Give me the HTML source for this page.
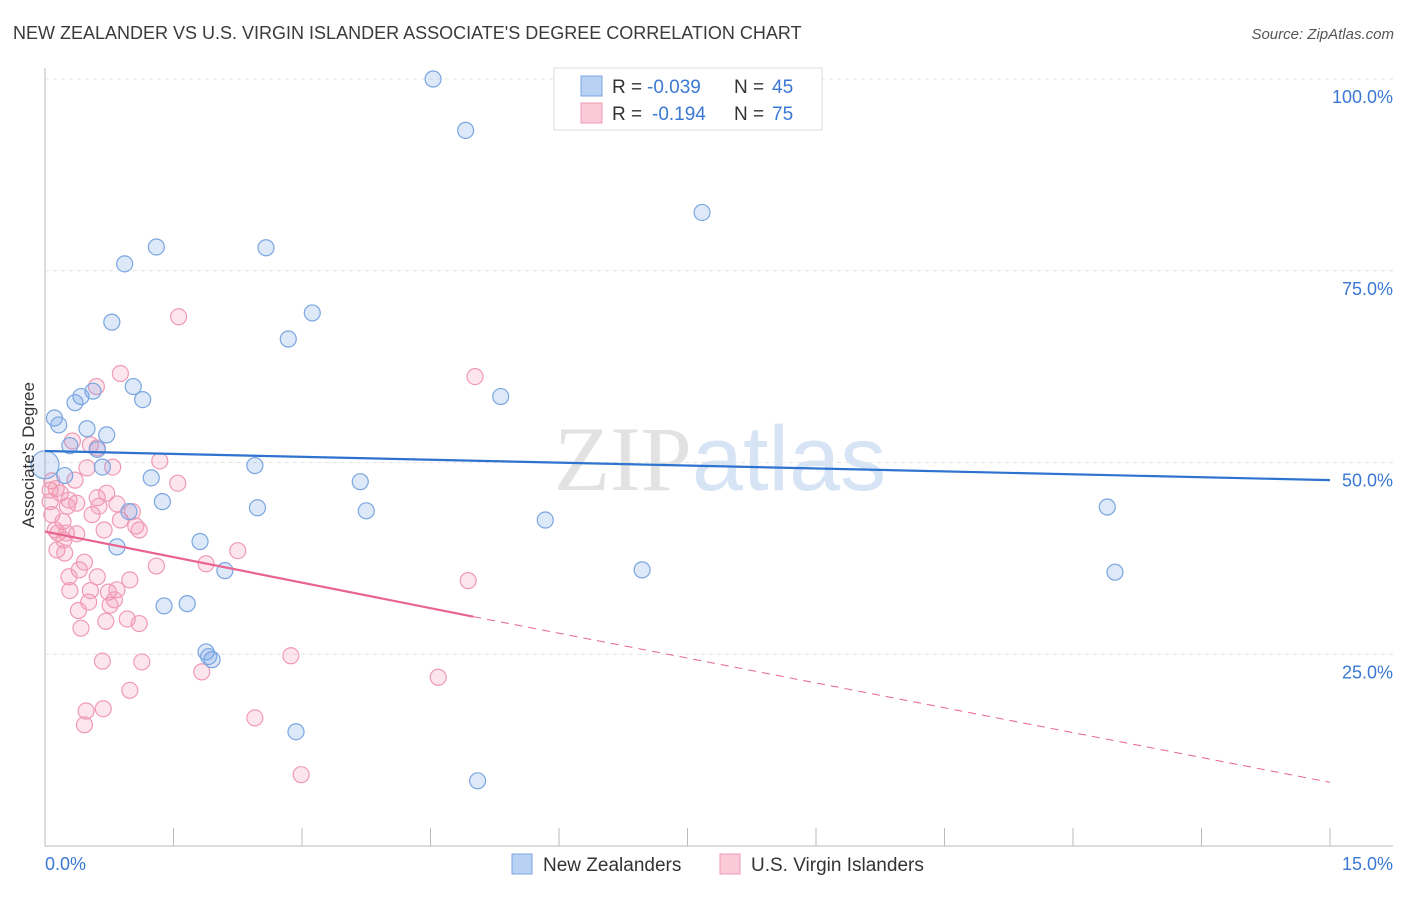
<!DOCTYPE html>
<html><head><meta charset="utf-8"><style>
body{margin:0;background:#fff;font-family:"Liberation Sans",sans-serif}
svg text{font-family:"Liberation Sans",sans-serif}
</style></head><body>
<svg id="chart" width="1406" height="892" xmlns="http://www.w3.org/2000/svg">
<text x="13" y="39" font-size="18" fill="#3a3a3a">NEW ZEALANDER VS U.S. VIRGIN ISLANDER ASSOCIATE'S DEGREE CORRELATION CHART</text>
<text x="1394" y="39" font-size="15" fill="#555" text-anchor="end" font-style="italic">Source: ZipAtlas.com</text>
<text x="720" y="490" font-size="92" text-anchor="middle"><tspan fill="#e2e2e2" font-family="Liberation Serif">ZIP</tspan><tspan fill="#d6e4f5">atlas</tspan></text>
<g id="grid"></g><g id="axes"></g><g id="pts"></g><g id="lines"></g>
<text transform="translate(34,455) rotate(-90)" font-size="17" fill="#333" text-anchor="middle">Associate's Degree</text>
<g>
<rect x="554" y="68" width="268" height="62" fill="#fff" stroke="#ddd"/>
<rect x="581" y="76" width="21" height="20" fill="#b9d2f3" stroke="#7aa6e0"/>
<rect x="581" y="103" width="21" height="20" fill="#fbcad8" stroke="#f09ab5"/>
<text x="612" y="93" font-size="19" fill="#333">R =</text>
<text x="647" y="93" font-size="19" fill="#3a78d4">-0.039</text>
<text x="734" y="93" font-size="19" fill="#333">N =</text>
<text x="772" y="93" font-size="19" fill="#3a78d4">45</text>
<text x="612" y="120" font-size="19" fill="#333">R =</text>
<text x="652" y="120" font-size="19" fill="#3a78d4">-0.194</text>
<text x="734" y="120" font-size="19" fill="#333">N =</text>
<text x="772" y="120" font-size="19" fill="#3a78d4">75</text>
</g>
<g>
<rect x="512" y="854" width="20" height="20" fill="#b9d2f3" stroke="#7aa6e0"/>
<text x="543" y="871" font-size="19" fill="#333">New Zealanders</text>
<rect x="720" y="854" width="20" height="20" fill="#fbcad8" stroke="#f09ab5"/>
<text x="751" y="871" font-size="19" fill="#333">U.S. Virgin Islanders</text>
</g>
</svg>
<script>
const xTicks=[0,1.5,3,4.5,6,7.5,9,10.5,12,13.5,15];
const yTicks=[25,50,75,100];
const yTickLabels=["25.0%","50.0%","75.0%","100.0%"];
const blueX=[4.53,4.91,7.67,1.30,2.58,0.93,0.78,3.12,2.84,0.56,1.03,0.35,1.14,0.42,5.32,0.11,0.16,0.49,0.72,0.29,0.61,0,0.67,2.45,0.23,1.24,3.68,1.37,2.48,3.75,0.98,5.84,12.40,0.84,1.81,2.10,6.97,12.49,1.39,1.66,1.88,1.95,1.91,2.93,5.05];
const blueY=[100,93.3,82.6,78.1,78.0,75.9,68.3,69.5,66.1,59.3,59.9,57.8,58.2,58.6,58.6,55.8,54.9,54.4,53.6,52.2,51.7,49.7,49.4,49.6,48.3,48.0,47.5,44.9,44.1,43.7,43.6,42.5,44.2,39.0,39.7,35.9,36.0,35.7,31.3,31.6,25.3,24.3,24.7,14.9,8.5];
const pinkX=[1.56,5.02,0.88,0.60,0.32,0.61,0.53,1.34,0.79,0.49,0.35,1.55,0.08,0.13,0.18,0.72,0.61,0.28,0.37,0.84,0.63,0.06,1.02,0.08,0.21,1.06,1.10,0.69,0.15,0.25,0.37,0.12,0.22,2.25,0.14,0.23,0.46,1.30,1.88,0.40,0.28,0.61,0.99,4.94,0.29,0.53,0.84,0.74,0.81,0.51,0.76,0.39,0.71,0.96,1.10,0.42,2.87,0.67,1.13,1.83,4.59,0.99,0.48,0.68,2.45,0.46,2.99,0.06,0.26,0.88,0.55];
const pinkY=[69.0,61.2,61.6,59.9,52.8,51.9,52.3,50.2,49.4,49.3,47.7,47.3,47.6,46.6,46.0,46.0,45.4,45.1,44.7,44.6,44.3,44.9,43.6,43.2,42.3,41.7,41.2,41.2,40.8,40.8,40.7,41.2,39.9,38.5,38.6,38.2,37.0,36.5,36.8,36.0,35.1,35.1,34.7,34.6,33.3,33.3,33.4,33.1,32.1,31.8,31.4,30.7,29.3,29.6,29.0,28.4,24.8,24.1,24.0,22.7,22.0,20.3,17.6,17.9,16.7,15.8,9.3,46.4,44.3,42.5,43.2];
const blueTrend=[51.5,47.7];
const pinkTrend=[41.0,29.9,8.3];
const pinkSolidEnd=5.0;
const X=v=>45+v*(1285/15), Y=v=>846-v*(767/100);
const NS="http://www.w3.org/2000/svg";
function mk(p,t,a){const e=document.createElementNS(NS,t);for(const k in a)e.setAttribute(k,a[k]);p.appendChild(e);return e;}
const grid=document.getElementById('grid'),axes=document.getElementById('axes'),pts=document.getElementById('pts'),lines=document.getElementById('lines');
yTicks.forEach((t,i)=>{const g=mk(grid,'line',{x1:45,x2:1393,y1:Y(t),y2:Y(t),stroke:'#e4e4e4','stroke-dasharray':'4,4'});


const tx=mk(axes,'text',{x:1393,y:Y(t)+24,'font-size':18,fill:'#3a78d4','text-anchor':'end'});tx.textContent=yTickLabels[i];

});
const ax=mk(axes,'line',{x1:45,x2:1393,y1:846,y2:846,stroke:'#bbb'});


const ay=mk(axes,'line',{x1:45,x2:45,y1:68,y2:846,stroke:'#bbb'});


xTicks.forEach(t=>{const l=mk(axes,'line',{x1:X(t),x2:X(t),y1:828,y2:846,stroke:'#bbb'});

});
const xl0=mk(axes,'text',{x:45,y:870,'font-size':18,fill:'#3a78d4'});xl0.textContent="0.0%";


const xl1=mk(axes,'text',{x:1393,y:870,'font-size':18,fill:'#3a78d4','text-anchor':'end'});xl1.textContent="15.0%";


pinkX.forEach((x,i)=>{const c=mk(pts,'circle',{cx:X(x),cy:Y(pinkY[i]),r:8,fill:'rgba(244,150,180,0.25)',stroke:'#f09ab5','stroke-width':1.2});

});
blueX.forEach((x,i)=>{const c=mk(pts,'circle',{cx:X(x),cy:Y(blueY[i]),r:x===0?14:8,fill:'rgba(120,165,230,0.25)',stroke:'#7aa6e0','stroke-width':1.2});

});
const bl=mk(lines,'line',{x1:X(0),y1:Y(blueTrend[0]),x2:X(15),y2:Y(blueTrend[1]),stroke:'#2f73d0','stroke-width':2.2});


const pl=mk(lines,'line',{x1:X(0),y1:Y(pinkTrend[0]),x2:X(pinkSolidEnd),y2:Y(pinkTrend[1]),stroke:'#e8648f','stroke-width':2.2});


const pd=mk(lines,'line',{x1:X(pinkSolidEnd),y1:Y(pinkTrend[1]),x2:X(15),y2:Y(pinkTrend[2]),stroke:'#e8648f','stroke-width':1,'stroke-dasharray':'8,6'});


</script>
</body></html>
